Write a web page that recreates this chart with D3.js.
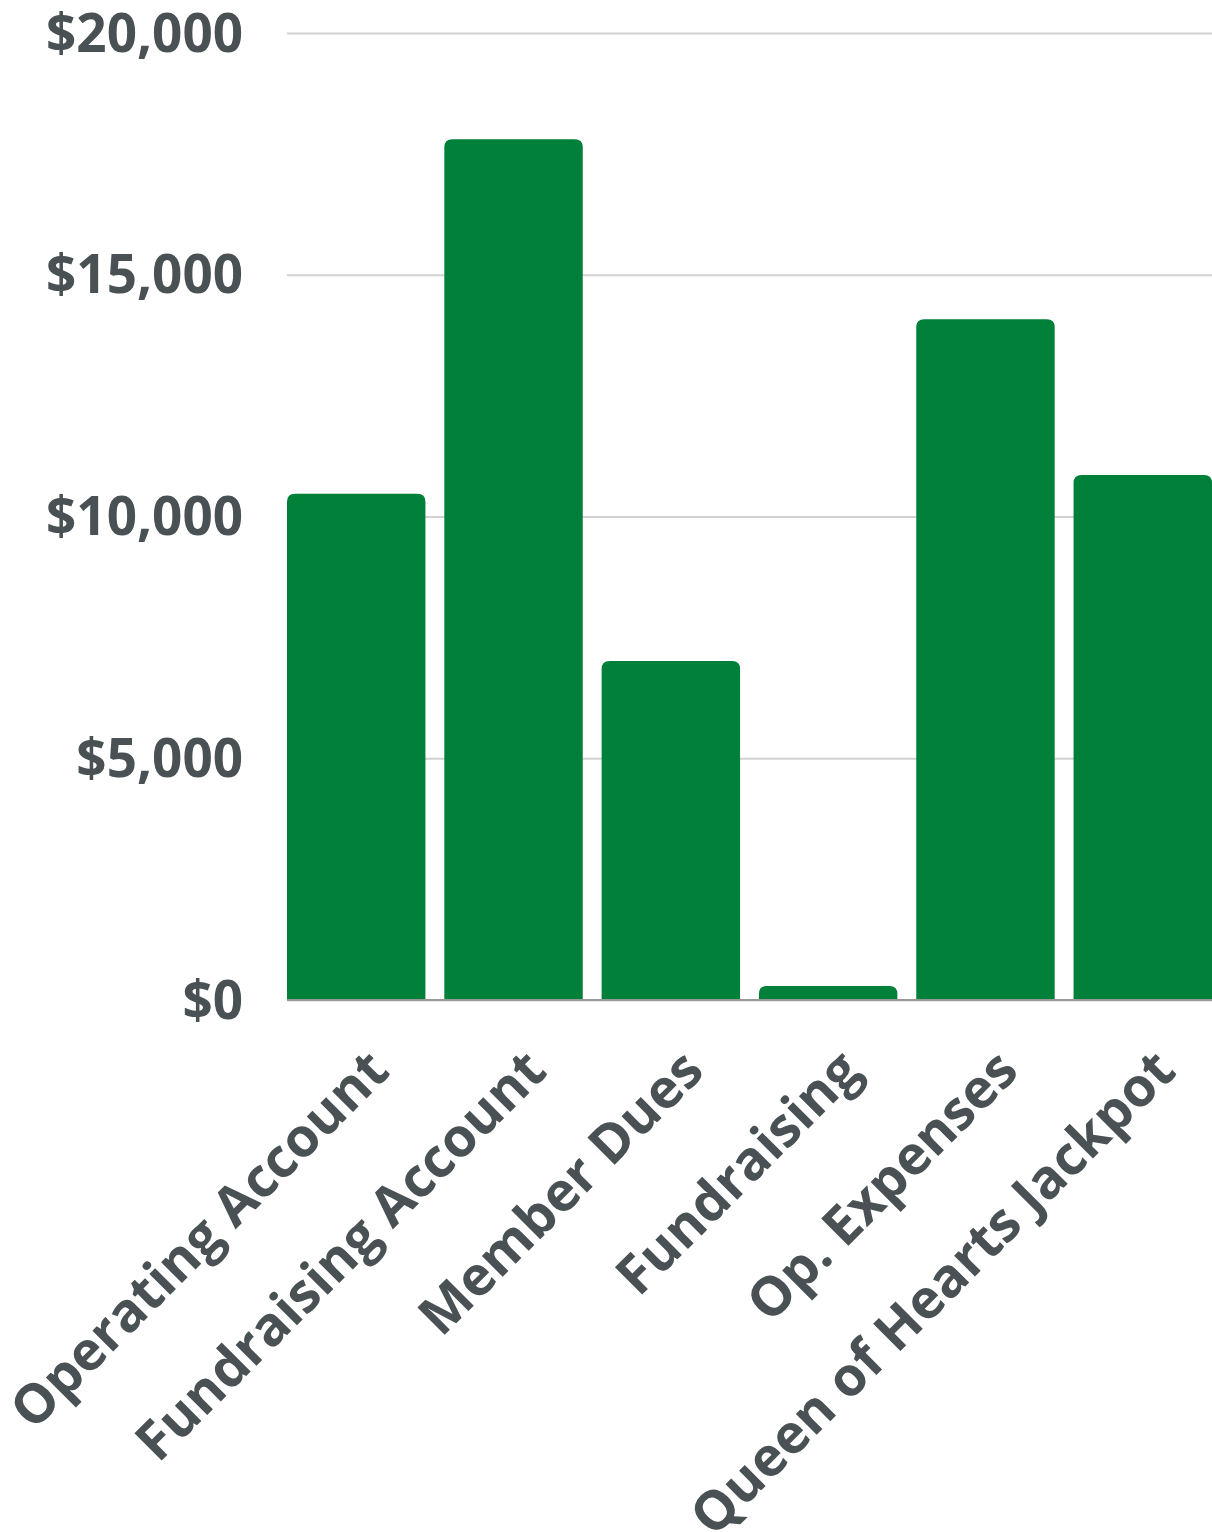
<!DOCTYPE html>
<html>
<head>
<meta charset="utf-8">
<script src="https://cdn.jsdelivr.net/npm/d3@7"></script>
<style>
  html, body { margin: 0; padding: 0; background: #fff; }
  svg { display: block; }
</style>
</head>
<body>
<div class="dataviz"><svg></svg></div>
<script>
// chart data
const categories = ["Operating Account", "Fundraising Account", "Member Dues", "Fundraising", "Op. Expenses", "Queen of Hearts Jackpot"];
const values = [10470, 17800, 7010, 290, 14080, 10860];
const yTicks = [0, 5000, 10000, 15000, 20000];

width = 1212;
height = 1532;

margin = ({top: 33, right: 0, bottom: 532, left: 287})

const tickFont = 53;
const labelFont = 54;
const fontFamily = "'Open Sans', sans-serif";
const textColor = "#495154";
const barColor = "#008039";

var data = categories.map((c, i) => ({name: c, value: values[i]}));

x = d3.scaleBand()
  .domain(categories)
  .range([margin.left, width - margin.right])
  .paddingInner(0.12)
  .paddingOuter(0);

y = d3.scaleLinear()
  .domain([0, 20000])
  .range([height - margin.bottom, margin.top]);

const svg = d3.select(".dataviz > svg")
  .attr("width", width)
  .attr("height", height)
  .attr("viewBox", [0, 0, width, height]);

// gridlines + tick labels
const yAxis = g => g
  .attr("transform", `translate(${margin.left},0)`)
  .call(d3.axisLeft(y)
    .tickValues(yTicks)
    .tickSize(-(width - margin.left - margin.right))
    .tickPadding(44)
    .tickFormat(d => "$" + d3.format(",")(d)))
  .attr("font-family", fontFamily)
  .attr("font-size", tickFont)
  .call(g => g.select(".domain").remove())
  .call(g => g.selectAll(".tick line").attr("stroke", "#d2d2d2").attr("stroke-width", 2))
  .call(g => g.selectAll(".tick text")
    .attr("fill", textColor)
    .attr("font-weight", 700)
    .attr("dy", "0.34em"));

svg.append("g").attr("class", "y-axis").call(yAxis);

// bars with rounded tops
const r = 8;
function barPath(d) {
  const x0 = x(d.name), x1 = x0 + x.bandwidth();
  const y0 = y(0), y1 = y(d.value);
  const rr = Math.min(r, (y0 - y1));
  return `M${x0},${y0}V${y1 + rr}Q${x0},${y1} ${x0 + rr},${y1}H${x1 - rr}Q${x1},${y1} ${x1},${y1 + rr}V${y0}Z`;
}

svg.append("g")
  .attr("class", "bars")
  .attr("fill", barColor)
  .selectAll("path")
  .data(data)
  .join("path")
  .attr("d", barPath);

// baseline
svg.append("line")
  .attr("x1", margin.left)
  .attr("x2", width - margin.right)
  .attr("y1", y(0))
  .attr("y2", y(0))
  .attr("stroke", "#999")
  .attr("stroke-width", 2);

// category labels, rotated
const xAxis = g => g
  .attr("transform", `translate(0,${y(0)})`)
  .call(d3.axisBottom(x).tickSize(0).tickPadding(0))
  .attr("font-family", fontFamily)
  .attr("font-size", labelFont)
  .call(g => g.select(".domain").remove())
  .call(g => g.selectAll(".tick text")
    .attr("fill", textColor)
    .attr("font-weight", 700)
    .attr("text-anchor", "end")
    .attr("dy", "0.35em")
    .attr("transform", "translate(22,60) rotate(-45)"));

svg.append("g").attr("class", "x-axis").call(xAxis);
</script>
</body>
</html>
